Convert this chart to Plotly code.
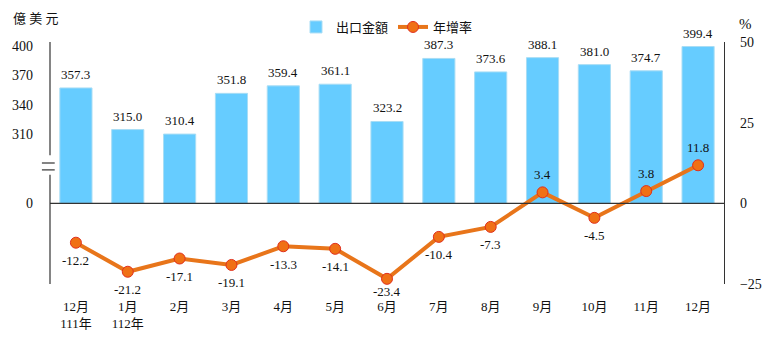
import plotly.graph_objects as go

# Monthly export value (USD 100 million) and year-over-year growth (%)
months = ["12月<br>111年", "1月<br>112年", "2月", "3月", "4月", "5月", "6月",
          "7月", "8月", "9月", "10月", "11月", "12月"]
export_value = [357.3, 315.0, 310.4, 351.8, 359.4, 361.1, 323.2,
                387.3, 373.6, 388.1, 381.0, 374.7, 399.4]
yoy_growth = [-12.2, -21.2, -17.1, -19.1, -13.3, -14.1, -23.4,
              -10.4, -7.3, 3.4, -4.5, 3.8, 11.8]

left_ticks = [0, 310, 340, 370, 400]
right_ticks = [-25, 0, 25, 50]

# Broken left axis: the value 0 sits at AXIS_OFFSET on the continuous scale
AXIS_OFFSET = 240
BREAK_TOP, BREAK_BOTTOM = 289, 269
FONT = "Liberation Serif, 'Noto Sans CJK TC', serif"
AXIS_COLOR = "#333333"

PLOT_HEIGHT = 246          # pixels between top and bottom margins
Y2_RANGE = (-25, 50)
PX_PER_PCT = PLOT_HEIGHT / (Y2_RANGE[1] - Y2_RANGE[0])
# growth label offset (in pixels) and lowest allowed label centre (in %)
LABEL_GAP_PX = 18
LABEL_FLOOR = -27.4

fig = go.Figure()

fig.add_trace(go.Bar(
    x=months,
    y=[v - AXIS_OFFSET for v in export_value],
    base=AXIS_OFFSET,
    name="出口金額",
    marker=dict(color="#66CCFF", line=dict(color="#A8DDF5", width=1)),
    yaxis="y",
))

fig.add_trace(go.Scatter(
    x=months,
    y=yoy_growth,
    name="年增率",
    mode="lines+markers",
    line=dict(color="#E8751A", width=4),
    marker=dict(size=11, color="#F07015", line=dict(color="#E0301E", width=1)),
    cliponaxis=False,
    yaxis="y2",
))

annotations = []
# value labels above the bars
for m, v in zip(months, export_value):
    annotations.append(dict(x=m, y=v, xref="x", yref="y", text=f"{v:.1f}",
                            showarrow=False, yanchor="bottom", yshift=4,
                            font=dict(size=13, family=FONT, color="#111111")))
# growth labels: below negative points, above positive ones
for m, v in zip(months, yoy_growth):
    if v >= 0:
        shift = LABEL_GAP_PX
    else:
        shift = -min(LABEL_GAP_PX, (v - LABEL_FLOOR) * PX_PER_PCT)
    annotations.append(dict(x=m, y=v, xref="x", yref="y2", text=f"{v:.1f}",
                            showarrow=False, yanchor="middle", yshift=shift,
                            font=dict(size=13, family=FONT, color="#111111")))
annotations += [
    dict(text="億 美 元", xref="paper", yref="paper", x=-0.058, y=1.0,
         xanchor="left", yanchor="bottom", yshift=14, showarrow=False,
         font=dict(size=13, family=FONT)),
    dict(text="%", xref="paper", yref="paper", x=1.02, y=1.0,
         xanchor="left", yanchor="bottom", yshift=8, showarrow=False,
         font=dict(size=15, family=FONT)),
]

shapes = [
    # zero baseline
    dict(type="line", xref="paper", yref="y2", x0=0, x1=1, y0=0, y1=0,
         line=dict(color=AXIS_COLOR, width=1.2)),
    # left axis line, drawn in two pieces around the break
    dict(type="line", xref="paper", yref="y", x0=0, x1=0, y0=BREAK_TOP, y1=404,
         line=dict(color=AXIS_COLOR, width=1.2)),
    dict(type="line", xref="paper", yref="y", x0=0, x1=0, y0=158, y1=BREAK_BOTTOM,
         line=dict(color=AXIS_COLOR, width=1.2)),
]
# break marks
for yb in (281, 274):
    shapes.append(dict(type="line", xref="paper", yref="y",
                       x0=-0.012, x1=0.007, y0=yb, y1=yb,
                       line=dict(color=AXIS_COLOR, width=1.2)))

fig.update_layout(
    width=782, height=343,
    margin=dict(l=50, r=58, t=40, b=57),
    paper_bgcolor="white", plot_bgcolor="white",
    font=dict(family=FONT, size=13, color="#111111"),
    bargap=0.38,
    showlegend=True,
    legend=dict(orientation="h", x=0.5, xanchor="center", y=1.0, yanchor="bottom",
                font=dict(size=13, family=FONT), itemwidth=30,
                bgcolor="rgba(0,0,0,0)", traceorder="normal"),
    xaxis=dict(showgrid=False, showline=False, ticks="", tickfont=dict(size=13),
               range=[-0.5, 12.5], ticklabelstandoff=13),
    yaxis=dict(range=[158, 404], showgrid=False, showline=False, zeroline=False,
               tickvals=[t + AXIS_OFFSET if t == 0 else t for t in left_ticks],
               ticktext=[str(t) for t in left_ticks], ticks="",
               ticklabelstandoff=16, tickfont=dict(size=14)),
    yaxis2=dict(range=list(Y2_RANGE), overlaying="y", side="right", showgrid=False,
                showline=True, linecolor=AXIS_COLOR, linewidth=1.2, zeroline=False,
                tickvals=right_ticks, ticks="", ticklabelstandoff=12,
                tickfont=dict(size=14)),
    shapes=shapes,
    annotations=annotations,
)

fig.write_html("out.html")
